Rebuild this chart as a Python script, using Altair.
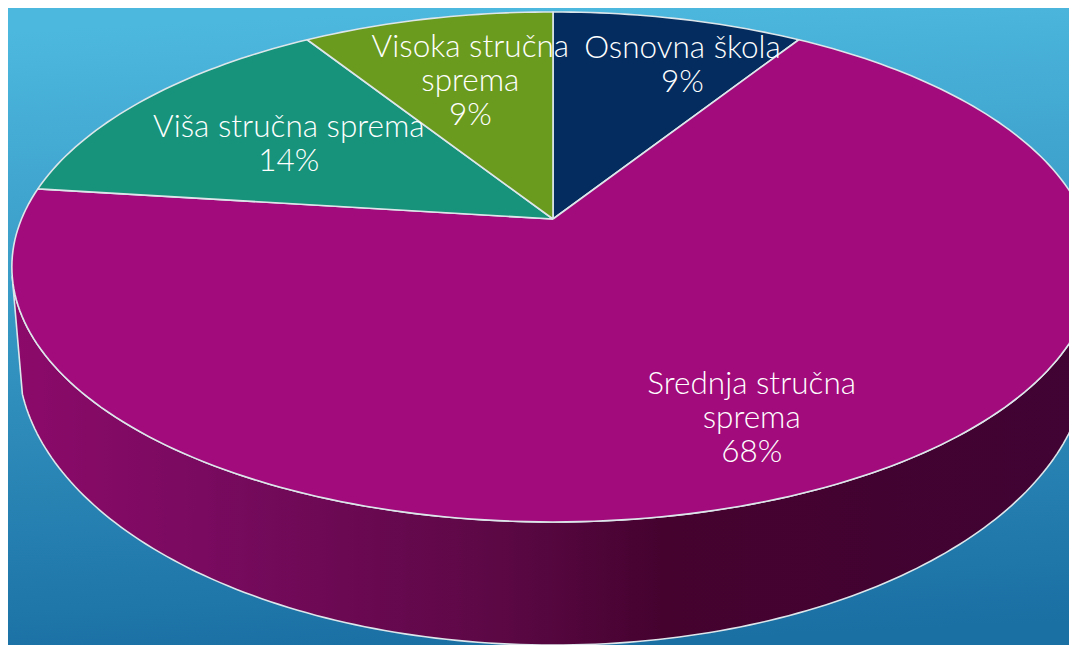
import math
import altair as alt
import pandas as pd

categories = ["Osnovna škola", "Srednja stručna sprema", "Viša stručna sprema", "Visoka stručna sprema"]
label_lines = [["Osnovna škola", "9%"], ["Srednja stručna", "sprema", "68%"], ["Viša stručna sprema", "14%"], ["Visoka stručna", "sprema", "9%"]]
shares = [9, 68, 14, 9]
colors = ["#042c5e", "#a10b7b", "#16937a", "#6b9b1e"]
label_radius = [0.756, 0.776, 0.616, 0.646]
label_shift = [5.2, 0.5, -1.2, 0.6]

W, H = 1061, 637
APEX_X, APEX_Y = 545, 211
K = 0.188


def top(t):
    u, v = math.sin(t), math.cos(t)
    d = 1 + K * v
    return 531.5 * u / d, 246 * v / d


def base(t):
    u, v = math.sin(t), math.cos(t)
    d = 1 + K * v
    return 525.5 * u / d, (262 * v - 84) / d


def arc(fn, a0, a1, n):
    return [fn(math.radians(a0 + (a1 - a0) * i / n)) for i in range(n + 1)]


x_scale = alt.Scale(domain=[-APEX_X, W - APEX_X])
y_scale = alt.Scale(domain=[APEX_Y - H, APEX_Y])


def polygon(points, **mark):
    df = pd.DataFrame(points, columns=["x", "y"])
    df["i"] = range(len(df))
    return alt.Chart(df).mark_line(clip=True, strokeWidth=1.6, strokeJoin="round", **mark).encode(
        x=alt.X("x:Q", scale=x_scale, axis=None),
        y=alt.Y("y:Q", scale=y_scale, axis=None),
        order="i:Q",
    )


bg = alt.Chart(pd.DataFrame({"a": [0]})).mark_rect(
    fill=alt.LinearGradient(
        gradient="linear", x1=0.46, y1=0, x2=0.54, y2=1,
        stops=[alt.GradientStop(color="#4db8de", offset=0), alt.GradientStop(color="#1a6fa3", offset=1)],
    )
).encode(x=alt.value(0), x2=alt.value(W), y=alt.value(0), y2=alt.value(H))

wall_pts = arc(top, 105, 257, 150) + arc(base, 252, 110, 150)
wall_pts.append(wall_pts[0])
wall = polygon(
    wall_pts,
    stroke="#dde6ea",
    fill=alt.LinearGradient(
        gradient="linear", x1=0, y1=0, x2=1, y2=0,
        stops=[
            alt.GradientStop(color="#8c0a6a", offset=0),
            alt.GradientStop(color="#7a0a60", offset=0.17),
            alt.GradientStop(color="#5c0845", offset=0.45),
            alt.GradientStop(color="#45022f", offset=0.6),
            alt.GradientStop(color="#400333", offset=1),
        ],
    ),
)

LINE = 34
layers = [bg, wall]
labels = []
cum = 0
for name, share, col, lines, r, sh in zip(categories, shares, colors, label_lines, label_radius, label_shift):
    a0 = cum * 3.6
    a1 = (cum + share) * 3.6
    cum += share
    pts = [(0, 0)] + arc(top, a0, a1, max(8, int(share * 3))) + [(0, 0)]
    layers.append(polygon(pts, stroke="#dde6ea", fill=col))
    t = math.radians((a0 + a1) / 2 + sh)
    u, v = r * math.sin(t), r * math.cos(t)
    d = 1 + K * v
    labels.append({"x": 531.5 * u / d, "y": 246 * v / d + (len(lines) - 1) * LINE / 2, "t": lines})

text = alt.Chart(pd.DataFrame(labels)).mark_text(
    font="Lato", fontSize=31.5, fontWeight=300, color="white", lineHeight=LINE, align="center", baseline="middle"
).encode(
    x=alt.X("x:Q", scale=x_scale, axis=None),
    y=alt.Y("y:Q", scale=y_scale, axis=None),
    text="t:N",
)
layers.append(text)

chart = alt.layer(*layers).properties(
    width=W, height=H, padding=0, autosize=alt.AutoSizeParams(type="none"),
).configure_view(stroke=None)

chart.save("out.html", embed_options={"renderer": "svg", "actions": False})
